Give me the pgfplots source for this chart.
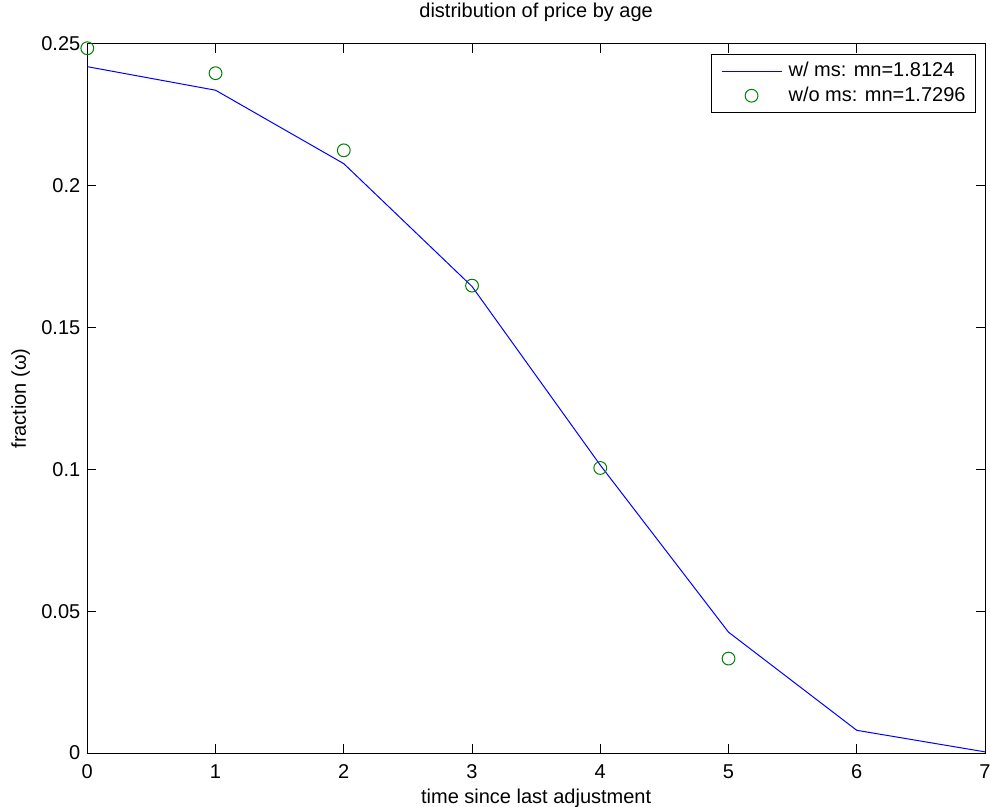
\documentclass[border=0pt]{standalone}
\usepackage{pgfplots}
\pgfplotsset{compat=1.18}
\usepackage{fontspec}
\setmainfont{Liberation Sans}
\definecolor{mlgreen}{rgb}{0,0.5,0}
\begin{document}
\fontsize{10}{12}\selectfont
\begin{tikzpicture}
\begin{axis}[
  name=ax,
  scale only axis,
  width=448.85pt, height=354.5pt,
  xmin=0, xmax=7, ymin=0, ymax=0.25,
  xtick={0,1,2,3,4,5,6,7},
  ytick={0,0.05,0.1,0.15,0.2,0.25},
  yticklabels={0,0.05,0.1,0.15,0.2,0.25},
  scaled y ticks=false,
  /pgf/number format/assume math mode=true,
  tick align=inside,
  major tick length=4.3pt,
  axis line style={line width=0.5pt},
  every tick/.style={black, line width=0.5pt},
  tick label style={font=\fontsize{10}{12}\selectfont},
  xticklabel style={anchor=base, yshift=-12.5pt},
  yticklabel style={anchor=east, inner sep=0pt, xshift=-3.3pt},
  title={distribution of price by age},
  title style={at={(axis description cs:0.5,1)}, anchor=base, yshift=7.35pt, font=\fontsize{10}{12}\selectfont},
  xlabel={time since last adjustment},
  xlabel style={at={(axis description cs:0.5,0)}, anchor=base, yshift=-25.2pt, font=\fontsize{10}{12}\selectfont},
  ylabel={fraction (ω)},
  ylabel style={at={(axis description cs:-0.0684,0.5)}, anchor=base, rotate=0, font=\fontsize{10}{12}\selectfont},
  legend image code/.code={%
    \pgfpathrectangle{\pgfpoint{0pt}{-4pt}}{\pgfpoint{30pt}{8pt}}\pgfusepath{use as bounding box}%
    \draw[mark repeat=2,mark phase=2,#1] plot coordinates {(0pt,0pt)(15pt,0pt)(30pt,0pt)};},
  legend style={at={(rel axis cs:1,1)}, anchor=north east, xshift=-4.5pt, yshift=-5pt,
    draw=black, line width=0.5pt, fill=white,
    inner xsep=5pt, inner ysep=2pt,
    font=\fontsize{10}{12}\selectfont,
    nodes={inner xsep=0pt, inner ysep=2pt},
    cells={anchor=west},
    row sep=-0.5pt,
    column sep=3.5pt},
  legend cell align=left,
]
\addplot[color=blue, draw=blue, line width=0.5pt, mark=none] coordinates {
  (0,0.2420) (1,0.2337) (2,0.2078) (3,0.1645) (4,0.1015) (5,0.0426) (6,0.0080) (7,0.0004)
};
\addlegendentry{w/ ms: mn=1.8124}
\addplot[color=mlgreen, only marks, mark=o, mark size=3.2pt, line width=0.5pt] coordinates {
  (0,0.2485) (1,0.2397) (2,0.2125) (3,0.1648) (4,0.1005) (5,0.0333)
};
\addlegendentry{w/o ms: mn=1.7296}
\end{axis}
\pgfresetboundingbox
\path ([xshift=-43.65pt,yshift=-26.5pt]ax.south west) rectangle ([xshift=2.5pt,yshift=22pt]ax.north east);
\end{tikzpicture}
\end{document}
